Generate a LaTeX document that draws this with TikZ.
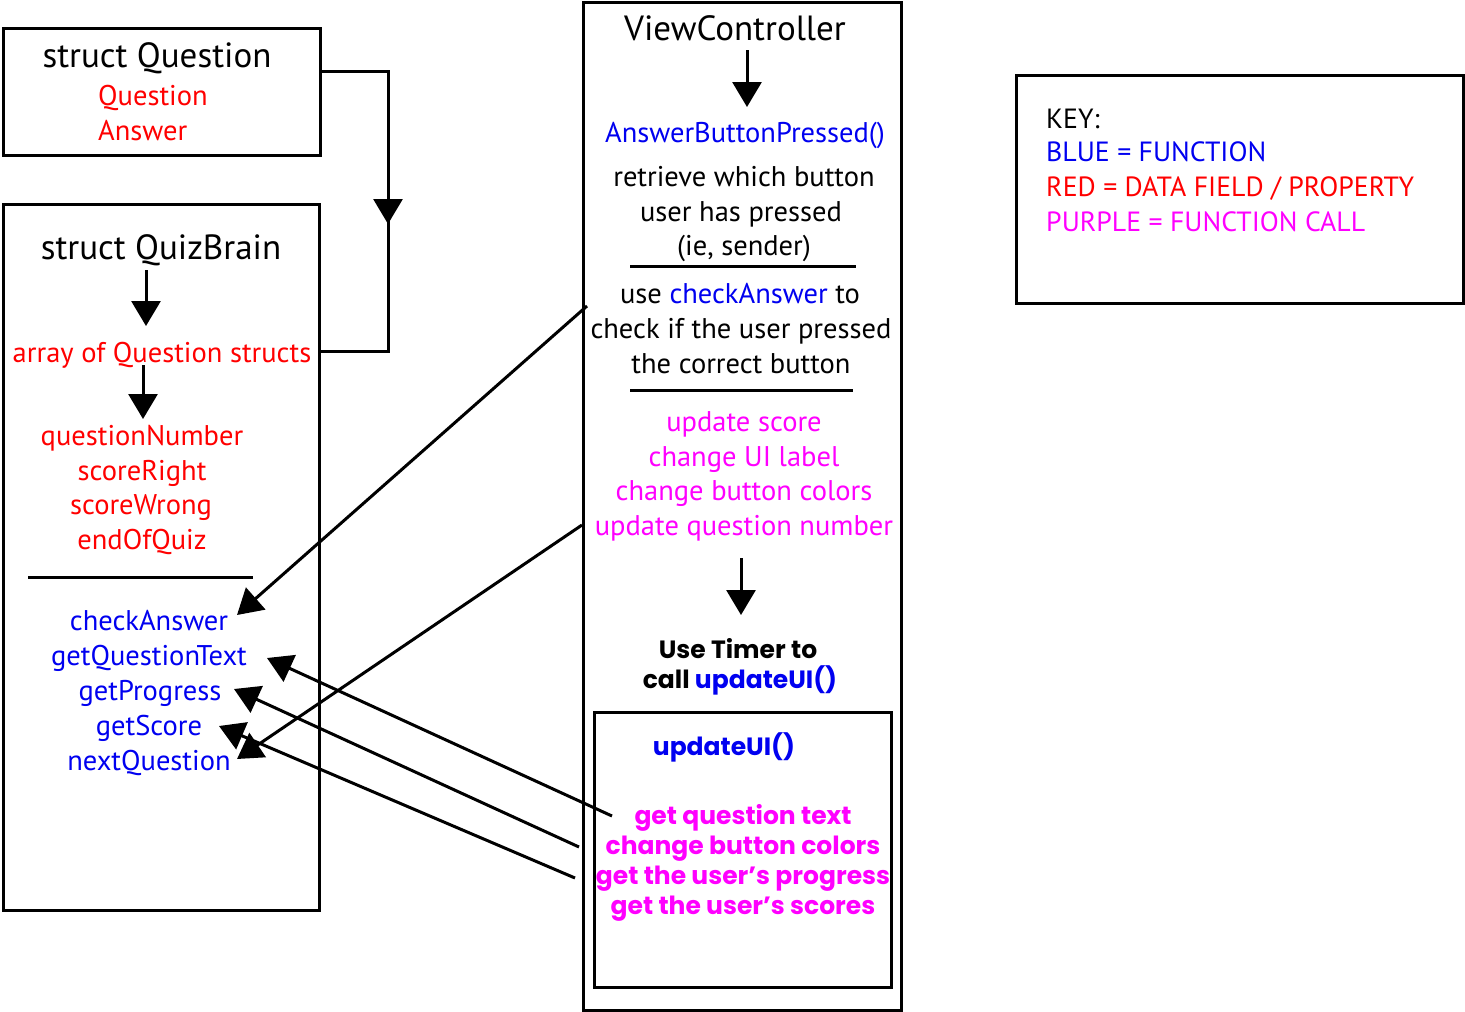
\documentclass[tikz,border=0pt]{standalone}
\usepackage{fontspec}
\setmainfont{PT Sans}
\newfontfamily\mont{Poppins}
\usetikzlibrary{arrows.meta}
\definecolor{fnblue}{RGB}{0,0,240}
\definecolor{fldred}{RGB}{255,0,0}
\definecolor{callmag}{RGB}{255,0,255}
\begin{document}
\begin{tikzpicture}[x=1pt,y=-1pt,
  box/.style={draw,line width=3pt,inner sep=0pt,outer sep=0pt,rectangle},
  conn/.style={line width=3pt},
  arr/.style={line width=3pt,-{Triangle[length=25pt,width=29pt]}},
  big/.style={inner sep=0pt,anchor=base,font=\fontsize{35}{40}\selectfont},
  txt/.style={inner sep=0pt,anchor=base,font=\fontsize{28.5}{33}\selectfont},
  keytxt/.style={inner sep=0pt,anchor=base west,font=\fontsize{27.8}{32}\selectfont},
  mtxt/.style={inner sep=0pt,anchor=base,font=\mont\bfseries\fontsize{25}{30}\selectfont},
  sep/.style={line width=3pt}
]
\useasboundingbox[fill=white] (0,0) rectangle (1465,1012);

% boxes
\node[box,minimum width=317pt,minimum height=127pt] (qbox) at (161.5,91.5) {};
\node[box,minimum width=316pt,minimum height=706pt] (qbbox) at (161,557) {};
\node[box,minimum width=318pt,minimum height=1008pt] (vcbox) at (742,506) {};
\node[box,minimum width=297pt,minimum height=275pt] (uibox) at (742.5,849.5) {};
\node[box,minimum width=447pt,minimum height=228pt] (keybox) at (1239.5,189) {};

% struct Question
\node[big] (tq) at (157,67) {struct Question};
\node[txt,anchor=base west,text=fldred] (fq) at (98,105) {Question};
\node[txt,anchor=base west,text=fldred] (fa) at (98,140) {Answer};

% struct QuizBrain
\node[big] (tqb) at (161,259) {struct QuizBrain};
\node[txt,text=fldred] (arr) at (162,362) {array of Question structs};
\node[txt,text=fldred] (qn) at (142,445) {questionNumber};
\node[txt,text=fldred] (sr) at (142,480) {scoreRight};
\node[txt,text=fldred] (sw) at (141,514) {scoreWrong};
\node[txt,text=fldred] (eq) at (142,549) {endOfQuiz};
\node[txt,text=fnblue] (ca) at (149,630) {checkAnswer};
\node[txt,text=fnblue] (gqt) at (149,665) {getQuestionText};
\node[txt,text=fnblue] (gp) at (150,700) {getProgress};
\node[txt,text=fnblue] (gs) at (149,735) {getScore};
\node[txt,text=fnblue] (nq) at (149,770) {nextQuestion};
\coordinate (l1a) at (28,577); \coordinate (l1b) at (253,577);
\draw[sep] (l1a) -- (l1b);

% ViewController
\node[big] (tvc) at (735,40) {ViewController};
\node[txt,text=fnblue] (abp) at (745,142) {AnswerButtonPressed()};
\node[txt] (r1) at (744,186) {retrieve which button};
\node[txt] (r2) at (741,221) {user has pressed};
\node[txt] (r3) at (744,255) {(ie, sender)};
\coordinate (l2a) at (630,266); \coordinate (l2b) at (856,266);
\draw[sep] (l2a) -- (l2b);
\node[txt] (u1) at (740,303) {use \textcolor{fnblue}{checkAnswer} to};
\node[txt] (u2) at (741,338) {check if the user pressed};
\node[txt] (u3) at (741,373) {the correct button};
\coordinate (l3a) at (630,390); \coordinate (l3b) at (853,390);
\draw[sep] (l3a) -- (l3b);
\node[txt,text=callmag] (m1) at (744,431) {update score};
\node[txt,text=callmag] (m2) at (744,466) {change UI label};
\node[txt,text=callmag] (m3) at (744,500) {change button colors};
\node[txt,text=callmag] (m4) at (744,535) {update question number};
\node[mtxt] (t1) at (738,658) {Use Timer to};
\node[mtxt] (t2) at (740,688) {call \textcolor{fnblue}{updateUI()}};
\node[mtxt,text=fnblue] (uui) at (724,755) {updateUI()};
\node[mtxt,text=callmag] (g1) at (743,824) {get question text};
\node[mtxt,text=callmag] (g2) at (743,854) {change button colors};
\node[mtxt,text=callmag] (g3) at (743,884) {get the user’s progress};
\node[mtxt,text=callmag] (g4) at (743,914) {get the user’s scores};

% key
\node[keytxt] (k0) at (1046,128) {KEY:};
\node[keytxt,text=fnblue] (k1) at (1046,161) {BLUE = FUNCTION};
\node[keytxt,text=fldred] (k2) at (1046,196) {RED = DATA FIELD / PROPERTY};
\node[keytxt,text=callmag] (k3) at (1046,231) {PURPLE = FUNCTION CALL};

% short arrows
\coordinate (a1s) at (146,270); \coordinate (a1e) at (146,326);
\draw[arr] (a1s) -- (a1e);
\coordinate (a2s) at (143,365); \coordinate (a2e) at (143,419);
\draw[arr] (a2s) -- (a2e);
\coordinate (a3s) at (747,50); \coordinate (a3e) at (747,107);
\draw[arr] (a3s) -- (a3e);
\coordinate (a4s) at (741,558); \coordinate (a4e) at (741,615);
\draw[arr] (a4s) -- (a4e);

% Question -> QuizBrain connector
\coordinate (qc1) at (320,71); \coordinate (qc2) at (388,71);
\coordinate (qc3) at (388,224); \coordinate (qc4) at (388,200);
\coordinate (qc5) at (388,351); \coordinate (qc6) at (320,351);
\draw[conn] (qc1) -- (qc2) -- (qc4);
\draw[arr] (qc4) -- (qc3);
\draw[conn,line join=miter] (qc4) -- (qc5) -- (qc6);

% long arrows
\coordinate (s1) at (587,306); \coordinate (e1) at (237,615);
\draw[arr] (s1) -- (e1);
\coordinate (s2) at (582,525); \coordinate (e2) at (237,759);
\draw[arr] (s2) -- (e2);
\coordinate (s3) at (612,816); \coordinate (e3) at (267,658);
\draw[arr] (s3) -- (e3);
\coordinate (s4) at (579,847); \coordinate (e4) at (234,689);
\draw[arr] (s4) -- (e4);
\coordinate (s5) at (575,878); \coordinate (e5) at (219,726);
\draw[arr] (s5) -- (e5);
\end{tikzpicture}
\end{document}
